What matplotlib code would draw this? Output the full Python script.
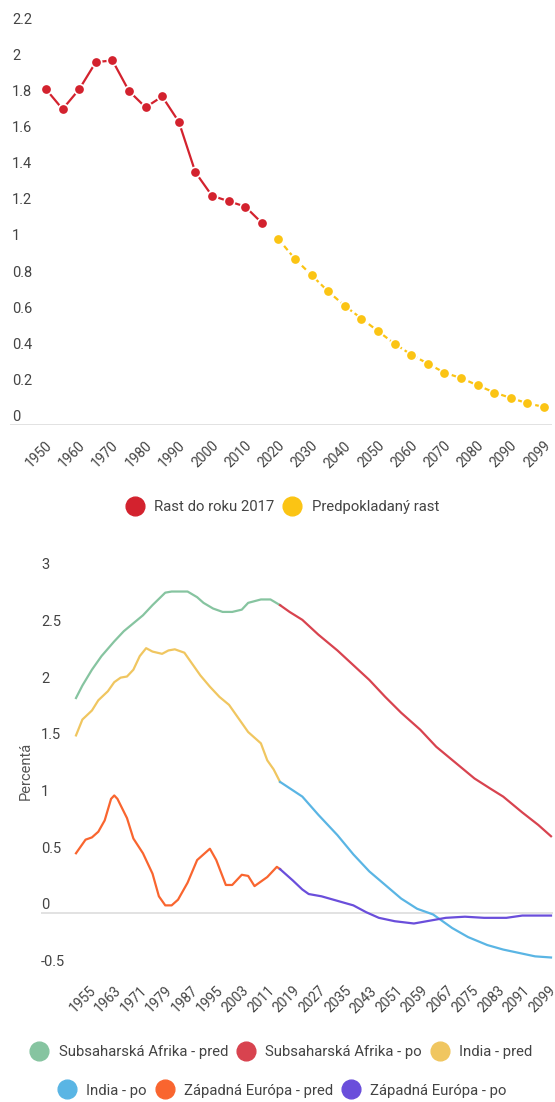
import matplotlib
matplotlib.use('Agg')
import matplotlib.pyplot as plt
import matplotlib.transforms as mtransforms
from matplotlib.lines import Line2D

plt.rcParams['font.family'] = ['Roboto', 'DejaVu Sans']

#************************TOP CHART DATA************************
yearsPast = [1950, 1955, 1960, 1965, 1970, 1975, 1980, 1985, 1990, 1995, 2000, 2005, 2010, 2015]
growthPast = [1.86, 1.75, 1.86, 2.01, 2.02, 1.85, 1.76, 1.82, 1.68, 1.40, 1.27, 1.24, 1.21, 1.12]
yearsProj = [2020, 2025, 2030, 2035, 2040, 2045, 2050, 2055, 2060, 2065, 2070, 2075, 2080, 2085, 2090, 2095, 2099]
growthProj = [1.03, 0.92, 0.83, 0.74, 0.66, 0.59, 0.52, 0.45, 0.39, 0.34, 0.29, 0.26, 0.22, 0.18, 0.15, 0.12, 0.10]
topYTicks = [0, 0.2, 0.4, 0.6, 0.8, 1.0, 1.2, 1.4, 1.6, 1.8, 2.0, 2.2]
topYLabels = ['0', '0.2', '0.4', '0.6', '0.8', '1', '1.2', '1.4', '1.6', '1.8', '2', '2.2']
topLegend = ['Rast do roku 2017', 'Predpokladaný rast']

#************************BOTTOM CHART DATA************************
ssaPreYears = [1950, 1952, 1955, 1958, 1962, 1965, 1968, 1971, 1974, 1978, 1980, 1985, 1988, 1990, 1993, 1996, 1999, 2002, 2004, 2008, 2011, 2014]
ssaPre = [1.90, 2.01, 2.15, 2.27, 2.40, 2.49, 2.56, 2.63, 2.72, 2.83, 2.84, 2.84, 2.79, 2.74, 2.69, 2.66, 2.66, 2.68, 2.74, 2.77, 2.77, 2.72]
ssaPostYears = [2014, 2017, 2021, 2026, 2032, 2037, 2042, 2047, 2052, 2058, 2063, 2069, 2075, 2080, 2084, 2090, 2095, 2099]
ssaPost = [2.72, 2.66, 2.59, 2.46, 2.32, 2.19, 2.06, 1.91, 1.77, 1.62, 1.47, 1.33, 1.19, 1.10, 1.03, 0.89, 0.78, 0.68]
indPreYears = [1950, 1952, 1955, 1957, 1960, 1962, 1964, 1966, 1968, 1970, 1972, 1974, 1977, 1979, 1981, 1984, 1986, 1989, 1992, 1995, 1998, 2001, 2004, 2008, 2010, 2012, 2014]
indPre = [1.57, 1.71, 1.79, 1.88, 1.96, 2.04, 2.08, 2.09, 2.15, 2.27, 2.34, 2.31, 2.29, 2.32, 2.33, 2.30, 2.22, 2.10, 2.00, 1.91, 1.84, 1.72, 1.60, 1.50, 1.35, 1.27, 1.16]
indPostYears = [2014, 2021, 2026, 2032, 2037, 2042, 2047, 2052, 2057, 2062, 2068, 2073, 2079, 2084, 2089, 2094, 2099]
indPost = [1.16, 1.03, 0.87, 0.69, 0.52, 0.37, 0.25, 0.13, 0.04, -0.01, -0.13, -0.21, -0.28, -0.32, -0.35, -0.38, -0.39]
weuPreYears = [1950, 1953, 1955, 1957, 1959, 1961, 1962, 1963, 1966, 1968, 1971, 1974, 1976, 1978, 1980, 1982, 1985, 1988, 1992, 1994, 1997, 1999, 2002, 2004, 2006, 2010, 2013, 2014]
weuPre = [0.53, 0.65, 0.67, 0.72, 0.82, 1.01, 1.04, 1.01, 0.84, 0.66, 0.53, 0.35, 0.15, 0.07, 0.07, 0.12, 0.27, 0.47, 0.57, 0.47, 0.25, 0.25, 0.34, 0.33, 0.24, 0.32, 0.41, 0.39]
weuPostYears = [2014, 2018, 2021, 2023, 2027, 2032, 2037, 2041, 2045, 2050, 2056, 2060, 2066, 2072, 2078, 2085, 2090, 2099]
weuPost = [0.39, 0.29, 0.21, 0.17, 0.15, 0.11, 0.07, 0.01, -0.04, -0.07, -0.09, -0.07, -0.04, -0.03, -0.04, -0.04, -0.02, -0.02]
botXTicks = list(range(1955, 2100, 8))
botYTicks = [-0.5, 0, 0.5, 1, 1.5, 2, 2.5, 3]
botYLabels = ['-0.5', '0', '0.5', '1', '1.5', '2', '2.5', '3']
botLegendRow1 = ['Subsaharská Afrika - pred', 'Subsaharská Afrika - po', 'India - pred']
botLegendRow2 = ['India - po', 'Západná Európa - pred', 'Západná Európa - po']

#************************COLORS************************
redPast = '#D3222E'
yellowProj = '#FBC414'
ssaPreColor = '#86C4A0'
ssaPostColor = '#D8434F'
indPreColor = '#F0C660'
indPostColor = '#5AB5E4'
weuPreColor = '#F9652F'
weuPostColor = '#6A4EDB'
textGrey = '#444444'
zeroLineColor = '#DDDDDD'
legendFont = 10.7

W, H = 555, 1102
fig = plt.figure(figsize=(W / 100, H / 100), dpi=100)

def pxBox(left, top, right, bottom):
	return [left / W, 1 - bottom / H, (right - left) / W, (bottom - top) / H]

def drawYLabels(ax, ticks, labels, xPix):
	trans = mtransforms.offset_copy(mtransforms.blended_transform_factory(fig.transFigure, ax.transData), fig=fig, x=0, y=8, units='dots')
	for val, lab in zip(ticks, labels):
		ax.text(xPix / W, val, lab, transform=trans, ha='left', va='center', fontsize=10.5, color=textGrey)

def styleXLabels(ax, shiftPix):
	ax.tick_params(axis='x', length=0, pad=13.5, labelsize=10, labelcolor=textGrey)
	for lab in ax.get_xticklabels():
		lab.set_rotation(45)
		lab.set_ha('right')
		lab.set_va('center')
		lab.set_rotation_mode('anchor')
		lab.set_transform(lab.get_transform() + mtransforms.ScaledTranslation(shiftPix / 100, 0, fig.dpi_scale_trans))

def cleanAx(ax):
	for s in ax.spines.values():
		s.set_visible(False)
	ax.set_yticks([])
	ax.axhline(0, color=zeroLineColor, lw=1.2, zorder=1)

def addLegend(handles, labels, xPix, yPix, ncol):
	fig.legend(handles, labels, loc='center', bbox_to_anchor=(xPix / W, 1 - yPix / H), ncol=ncol, frameon=False,
		fontsize=legendFont, handlelength=1.3, handletextpad=0.65, columnspacing=0.55, borderpad=0, labelcolor=textGrey)

#************************TOP CHART************************
unitTop = 180.5
ax1 = fig.add_axes(pxBox(10, 425 - 2.2 * unitTop, 552, 425))
cleanAx(ax1)
categories = yearsPast + yearsProj
idxPast = list(range(len(yearsPast)))
idxProj = list(range(len(yearsPast), len(categories)))
ax1.plot(idxPast, growthPast, color=redPast, lw=1.6, marker='o', ms=7.5, mfc=redPast, mec='white', mew=1.2, clip_on=False, zorder=3)
ax1.plot(idxProj, growthProj, color=yellowProj, lw=1.6, ls=(0, (2.5, 1.5)), marker='o', ms=7.5, mfc=yellowProj, mec='white', mew=1.2, clip_on=False, zorder=3)
scaleTop = 16.6
ax1.set_xlim(-(46 - 10) / scaleTop, 30 + (552 - 544) / scaleTop)
ax1.set_ylim(0, 2.2)
tickIdx = list(range(0, len(categories), 2))
ax1.set_xticks(tickIdx, [str(categories[i]) for i in tickIdx])
styleXLabels(ax1, 4)
drawYLabels(ax1, topYTicks, topYLabels, 12)

topHandles = [Line2D([], [], ls='', marker='o', ms=13.5, color=c) for c in [redPast, yellowProj]]
addLegend(topHandles, topLegend, 282, 507, 2)

#************************BOTTOM CHART************************
unitBot = 113.3
zeroBot = 913.3
ax2 = fig.add_axes(pxBox(41, zeroBot - 3 * unitBot, 553, zeroBot + 0.5 * unitBot))
cleanAx(ax2)
series = [
	(ssaPreYears, ssaPre, ssaPreColor),
	(ssaPostYears, ssaPost, ssaPostColor),
	(indPreYears, indPre, indPreColor),
	(indPostYears, indPost, indPostColor),
	(weuPreYears, weuPre, weuPreColor),
	(weuPostYears, weuPost, weuPostColor),
]
for xs, ys, c in series:
	ax2.plot(xs, ys, color=c, lw=1.6, clip_on=False, zorder=3, solid_joinstyle='round')
scaleBot = 3.188
ax2.set_xlim(1950 - (76 - 41) / scaleBot, 2099 + (553 - 551) / scaleBot)
ax2.set_ylim(-0.5, 3)
ax2.set_xticks(botXTicks, [str(y) for y in botXTicks])
styleXLabels(ax2, 2)
drawYLabels(ax2, botYTicks, botYLabels, 41)
fig.text(26 / W, 1 - 771 / H, 'Percentá', rotation=90, ha='center', va='center', fontsize=10.5, color='#555555')

row1Handles = [Line2D([], [], ls='', marker='o', ms=13.5, color=c) for c in [ssaPreColor, ssaPostColor, indPreColor]]
row2Handles = [Line2D([], [], ls='', marker='o', ms=13.5, color=c) for c in [indPostColor, weuPreColor, weuPostColor]]
addLegend(row1Handles, botLegendRow1, 281, 1052, 3)
addLegend(row2Handles, botLegendRow2, 282, 1090.5, 3)

fig.savefig('out.png', dpi=100)
